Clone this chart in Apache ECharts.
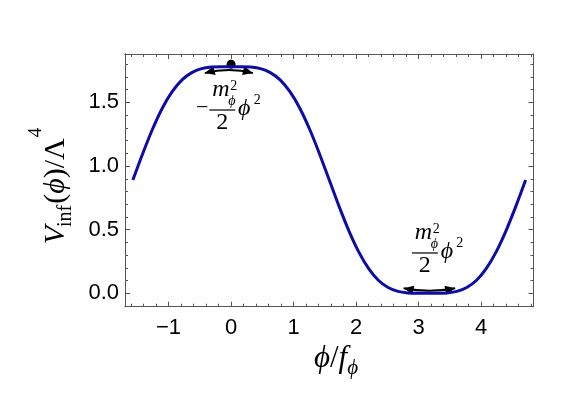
<!DOCTYPE html>
<html><head><meta charset="utf-8">
<script src="https://cdn.jsdelivr.net/npm/echarts@6/dist/echarts.min.js"></script>
<style>html,body{margin:0;padding:0;background:#fff}#c{width:572px;height:404px}</style>
</head><body><div id="c"></div>
<script>
// ---- data ----
const phi = [-1.571,-1.414,-1.257,-1.100,-0.942,-0.785,-0.628,-0.471,-0.314,-0.157,
  0,0.157,0.314,0.471,0.628,0.785,0.942,1.100,1.257,1.414,
  1.571,1.728,1.885,2.042,2.199,2.356,2.513,2.670,2.827,2.985,
  3.142,3.299,3.456,3.613,3.770,3.927,4.084,4.241,4.398,4.555,4.712];
const V = [0.89,1.097,1.289,1.454,1.584,1.677,1.734,1.765,1.777,1.780,
  1.780,1.780,1.777,1.765,1.734,1.677,1.584,1.454,1.289,1.097,
  0.89,0.683,0.491,0.326,0.196,0.103,0.046,0.015,0.003,0.000,
  0.000,0.000,0.003,0.015,0.046,0.103,0.196,0.326,0.491,0.683,0.89];
const xTicks = [-1,0,1,2,3,4];
const xMinorTicks = [-1.6,-1.4,-1.2,-0.8,-0.6,-0.4,-0.2,0.2,0.4,0.6,0.8,1.2,1.4,1.6,1.8,2.2,2.4,2.6,2.8,3.2,3.4,3.6,3.8,4.2,4.4,4.6,4.8];
const yTicks = [0,0.5,1,1.5];
const yMinorTicks = [-0.1,0.1,0.2,0.3,0.4,0.6,0.7,0.8,0.9,1.1,1.2,1.3,1.4,1.6,1.7,1.8];
const xRange = [-1.6965, 4.8381];
const yRange = [-0.105, 1.88];
const maxPoint = [[0, 1.80]];
const arrows = [[-0.42, 1.73, 0.35, 1.73], [2.76, 0.04, 3.585, 0.04]];
const topLabelAnchor = [-0.14, 1.44];
const bottomLabelAnchor = [3.10, 0.317];

// ---- styles ----
const FRAME = '#555';
const SANS = "'Liberation Sans', Arial, sans-serif";
const SERIF = "'Liberation Serif', 'DejaVu Serif', serif";
const CURVE = '#0c0ca8';
const ARROW_BULGE = [3, -2.5];   // px, sagitta of each curved arrow (positive = bulges upward)

function fmt(v, dec) {
  const s = dec ? v.toFixed(dec) : String(v);
  return s.replace('-', '\u2212');
}
function xAx(pos, ticks, len, showLabel) {
  return {
    type: 'value', position: pos, min: xRange[0], max: xRange[1],
    axisLine: { show: true, onZero: false, lineStyle: { color: FRAME, width: 1 } },
    axisTick: { show: true, inside: true, length: len, customValues: ticks, lineStyle: { color: FRAME, width: 1 } },
    axisLabel: showLabel ? { show: true, customValues: ticks, margin: 10, color: '#000', fontFamily: SANS, fontSize: 22,
      formatter: v => fmt(v) } : { show: false },
    splitLine: { show: false }, minorTick: { show: false }
  };
}
function yAx(pos, ticks, len, showLabel) {
  return {
    type: 'value', position: pos, min: yRange[0], max: yRange[1],
    axisLine: { show: true, onZero: false, lineStyle: { color: FRAME, width: 1 } },
    axisTick: { show: true, inside: true, length: len, customValues: ticks, lineStyle: { color: FRAME, width: 1 } },
    axisLabel: showLabel ? { show: true, customValues: ticks, margin: 6, color: '#000', fontFamily: SANS, fontSize: 22,
      formatter: v => fmt(v, 1) } : { show: false },
    splitLine: { show: false }, minorTick: { show: false }
  };
}

function renderArrow(params, api) {
  const a = api.coord([api.value(0), api.value(1)]);
  const b = api.coord([api.value(2), api.value(3)]);
  const bulge = ARROW_BULGE[params.dataIndex];
  const cp = [(a[0] + b[0]) / 2, (a[1] + b[1]) / 2 - 2 * bulge];
  const head = (tip, from) => {
    const dx = tip[0] - from[0], dy = tip[1] - from[1];
    const L = Math.hypot(dx, dy), ux = dx / L, uy = dy / L;
    const len = 10, hw = 4.5;
    const bx = tip[0] - ux * len, by = tip[1] - uy * len;
    return { type: 'polygon', shape: { points: [[tip[0], tip[1]], [bx - uy * hw, by + ux * hw], [bx + uy * hw, by - ux * hw]] },
      style: { fill: '#000', stroke: null } };
  };
  return { type: 'group', children: [
    { type: 'bezierCurve', shape: { x1: a[0], y1: a[1], x2: b[0], y2: b[1], cpx1: cp[0], cpy1: cp[1] },
      style: { stroke: '#000', lineWidth: 2, fill: 'none' } },
    head(a, cp), head(b, cp)
  ] };
}

const chart = echarts.init(document.getElementById('c'), null, { renderer: 'canvas' });
chart.setOption({
  animation: false,
  backgroundColor: '#fff',
  grid: { left: 125, right: 38.5, top: 54, bottom: 97.3, containLabel: false, outerBoundsMode: 'none' },
  xAxis: [xAx('bottom', xTicks, 5, true), xAx('bottom', xMinorTicks, 3, false),
          xAx('top', xTicks, 5, false), xAx('top', xMinorTicks, 3, false)],
  yAxis: [yAx('left', yTicks, 5, true), yAx('left', yMinorTicks, 3, false),
          yAx('right', yTicks, 5, false), yAx('right', yMinorTicks, 3, false)],
  series: [
    {
      type: 'line', xAxisIndex: 0, yAxisIndex: 0,
      data: phi.map((x, i) => [x, V[i]]),
      smooth: 0.3, showSymbol: false, symbol: 'none',
      lineStyle: { color: CURVE, width: 3 },
      silent: true
    },
    {
      type: 'custom', xAxisIndex: 0, yAxisIndex: 0, silent: true, clip: false,
      data: arrows, encode: { x: [0, 2], y: [1, 3] },
      renderItem: renderArrow
    },
    {
      type: 'scatter', xAxisIndex: 0, yAxisIndex: 0,
      data: maxPoint, symbol: 'circle', symbolSize: 9,
      itemStyle: { color: '#000', opacity: 1 }, silent: true
    }
  ]
});

// ---- math-like text helpers ----
const mctx = document.createElement('canvas').getContext('2d');
function fontStr(size, italic) { return (italic ? 'italic ' : '') + size + 'px ' + SERIF; }
function measure(text, size, italic) { mctx.font = fontStr(size, italic); return mctx.measureText(text).width; }
// tokens: [text, size, italic, dy(baseline shift), kern] ; baseline at local y = 0, centered horizontally
function runs(tokens) {
  let cur = 0;
  const items = tokens.map(([t, size, italic, dy, kern]) => {
    cur += (kern || 0);
    const it = { type: 'text', x: cur, y: (dy || 0) - 0.3 * size, silent: true,
      style: { text: t, fontFamily: SERIF, fontSize: size, fontStyle: italic ? 'italic' : 'normal',
        fill: '#000', align: 'left', verticalAlign: 'middle' } };
    cur += measure(t, size, italic);
    return it;
  });
  items.forEach(it => { it.x -= cur / 2; });
  return items;
}

function fraction(anchor, withMinus) {
  const p = chart.convertToPixel({ xAxisIndex: 0, yAxisIndex: 0 }, anchor);
  const t = (text, x, y, size, italic) => ({
    type: 'text', x: x, y: y, silent: true,
    style: { text: text, fontFamily: SERIF, fontSize: size, fontStyle: italic ? 'italic' : 'normal',
      fill: '#000', align: 'center', verticalAlign: 'middle' }
  });
  const children = [
    { type: 'line', silent: true, shape: { x1: -13, y1: 0, x2: 13, y2: 0 }, style: { stroke: '#000', lineWidth: 1.2 } },
    t('m', -1.5, -20.5, 24, true),
    t('\u03d5', 9.5, -8.5, 14, true),
    t('2', 11.5, -24, 14, false),
    t('2', 0, 13, 24, false),
    t('\u03d5', 22, -1, 24, true),
    t('2', 35, -10, 14, false)
  ];
  if (withMinus) children.push(t('\u2212', -20, -2, 22, false));
  return { type: 'group', x: p[0], y: p[1], children: children };
}

chart.setOption({
  graphic: [
    fraction(topLabelAnchor, true),
    fraction(bottomLabelAnchor, false),
    { type: 'group', x: 65, y: 186, rotation: Math.PI / 2,
      children: runs([['V', 30, true, 0], ['inf', 20, false, 7, -1], ['(', 30, false, 0, 1], ['\u03d5', 30, true, 0],
                      [')/\u039b', 30, false, 0], ['4', 19, false, -23, 1]]) },
    { type: 'group', x: 336, y: 368,
      children: runs([['\u03d5', 31, true, 0], ['/', 31, false, 0], ['f', 31, true, 0], ['\u03d5', 21, true, 7, 0]]) }
  ]
});
</script></body></html>
